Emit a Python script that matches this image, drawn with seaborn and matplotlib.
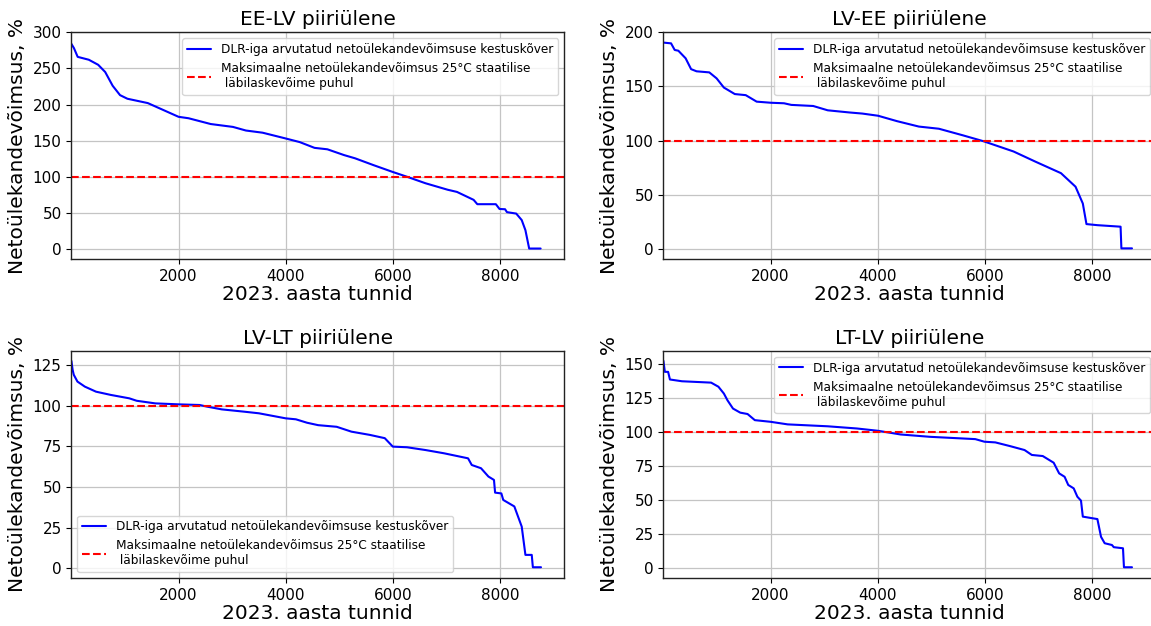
import matplotlib
matplotlib.use("Agg")
import matplotlib.pyplot as plt
from matplotlib.ticker import MultipleLocator
import seaborn as sns
import pandas as pd

# ---------------- data ----------------
titles = ["EE-LV piiriülene", "LV-EE piiriülene", "LV-LT piiriülene", "LT-LV piiriülene"]
x_label = "2023. aasta tunnid"
y_label = "Netoülekandevõimsus, %"
curve_label = "DLR-iga arvutatud netoülekandevõimsuse kestuskõver"
static_label = "Maksimaalne netoülekandevõimsus 25°C staatilise\n läbilaskevõime puhul"
static_level = 100

ee_lv_hours = [0, 48, 117, 325, 500, 631, 770, 908, 1046, 1426, 2000, 2187, 2600, 3016,
               3258, 3569, 4000, 4262, 4539, 4779, 5090, 5297, 5643, 6000, 6265, 6610,
               7025, 7198, 7509, 7578, 7924, 7992, 8096, 8131, 8304, 8407, 8476, 8546, 8760]
ee_lv_pct = [284, 278, 266, 262, 255, 245, 226, 213, 208, 202, 183, 181, 173, 169,
             164, 161, 153, 148, 140, 138, 130, 125.5, 116, 106.6, 100, 91,
             82, 79, 68, 62, 62, 55.4, 55, 51, 49, 40, 26, 0.6, 0.6]

lv_ee_hours = [0, 143, 211, 279, 415, 517, 619, 857, 993, 1129, 1333, 1537, 1741, 2000,
               2252, 2388, 2796, 3068, 3476, 3714, 4007, 4361, 4769, 5143, 5585, 5980,
               6537, 6946, 7422, 7694, 7830, 7898, 8102, 8535, 8550, 8748]
lv_ee_pct = [190.5, 189.8, 183.7, 183, 176, 166, 164, 163, 157.5, 149, 143, 142, 136, 135,
             134.5, 133, 132, 128, 126, 125, 123, 118, 113, 111, 105, 99.4,
             90, 80.6, 70, 57.5, 42, 23, 22, 20.6, 0.6, 0.6]

lv_lt_hours = [0, 23, 44, 113, 251, 459, 735, 1081, 1219, 1565, 2000, 2394, 2532, 2809,
               3223, 3500, 4000, 4191, 4398, 4606, 4952, 5228, 5573, 5850, 6000, 6265,
               6610, 6956, 7405, 7474, 7647, 7785, 7889, 7910, 8027, 8062, 8269, 8407,
               8476, 8594, 8615, 8767]
lv_lt_pct = [127.5, 122, 119, 114.8, 111.7, 108.6, 106.6, 104.5, 103, 101.4, 100.8, 100.4, 99.4, 97.7,
             96.3, 95.3, 92.2, 91.6, 89.5, 88, 87, 84, 82, 80, 74.8, 74.4,
             72.7, 70.7, 67.6, 63.5, 61.5, 56.4, 54.3, 46.5, 46, 42, 38, 25.6,
             8.2, 8.2, 0.6, 0.6]

lt_lv_hours = [0, 27, 88, 122, 347, 891, 1027, 1129, 1197, 1299, 1435, 1571, 1707, 2000,
               2320, 3068, 3612, 4007, 4429, 4973, 5823, 5993, 6197, 6469, 6742, 6878,
               7082, 7286, 7388, 7490, 7558, 7660, 7728, 7796, 7830, 8102, 8170, 8238,
               8374, 8408, 8580, 8598, 8748]
lt_lv_pct = [152, 143.9, 143.9, 138.3, 137, 136, 133, 128, 123, 117, 114, 113, 108.5, 107.3,
             105.4, 104, 102.4, 100.7, 98, 96.3, 94.6, 92.7, 92.2, 89.5, 86.6, 83,
             82.2, 77.3, 69.5, 67, 61, 58.5, 52.4, 49.5, 37.8, 36, 23, 18.3,
             17, 15.4, 14.6, 0.7, 0.7]

series = [(ee_lv_hours, ee_lv_pct), (lv_ee_hours, lv_ee_pct),
          (lv_lt_hours, lv_lt_pct), (lt_lv_hours, lt_lv_pct)]
legend_locs = ["upper right", "upper right", "lower left", "upper right"]
y_steps = [50, 50, 25, 25]
y_limits = [(-14.3, 300), (-9.5, 200), (-6.2, 133.8), (-7.4, 159.4)]
x_ticks = [2000, 4000, 6000, 8000]

# ---------------- style ----------------
sns.set_theme(style="ticks", rc={
    "axes.edgecolor": "#222222",
    "axes.linewidth": 1.0,
    "grid.color": "#c4c4c4",
    "grid.linewidth": 0.9,
    "xtick.color": "black",
    "ytick.color": "black",
    "text.color": "black",
    "axes.labelcolor": "black",
    "xtick.major.size": 3.5,
    "ytick.major.size": 3.5,
    "xtick.major.width": 0.8,
    "ytick.major.width": 0.8,
})
plt.rcParams["font.family"] = ["DejaVu Sans"]

fig = plt.figure(figsize=(11.51, 6.26), dpi=100)
W, H = 1151.0, 626.0
# axes rectangles in pixel coordinates (left, top, right, bottom)
rects = [(71.4, 32.3, 564.2, 259.3), (663.4, 32.3, 1156.2, 259.3),
         (71.4, 350.7, 564.2, 578.3), (663.4, 350.7, 1156.2, 578.3)]

for (hours, pct), title, loc, step, ylim, (l, t, r, b) in zip(
        series, titles, legend_locs, y_steps, y_limits, rects):
    ax = fig.add_axes([l / W, 1 - b / H, (r - l) / W, (b - t) / H])
    df = pd.DataFrame({"hour": hours, "pct": pct})
    sns.lineplot(data=df, x="hour", y="pct", ax=ax, color="blue", linewidth=1.5,
                 label=curve_label)
    ax.axhline(static_level, color="red", linestyle="--", linewidth=1.5, label=static_label)
    ax.set_xlim(0, 9200)
    ax.set_ylim(*ylim)
    ax.set_xticks(x_ticks)
    ax.yaxis.set_major_locator(MultipleLocator(step))
    ax.grid(True, zorder=0)
    ax.set_axisbelow(True)
    ax.tick_params(labelsize=11)
    ax.set_title(title, fontsize=14.5, pad=5, color="black")
    ax.set_xlabel(x_label, fontsize=14.5, labelpad=1)
    ax.set_ylabel(y_label, fontsize=14.5, labelpad=4)
    leg = ax.legend(loc=loc, fontsize=8.7, framealpha=0.8, edgecolor="0.8", fancybox=True)
    for txt in leg.get_texts():
        txt.set_color("black")

fig.savefig("out.png", dpi=100)
